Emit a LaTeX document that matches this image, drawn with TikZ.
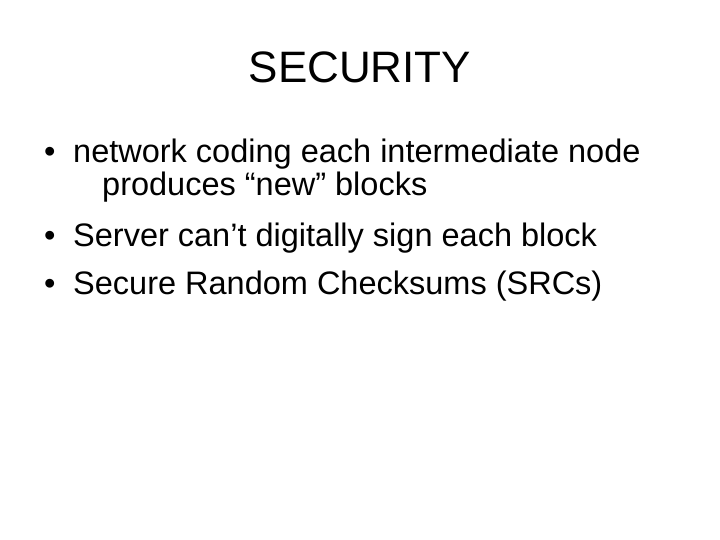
\documentclass[tikz,border=0pt]{standalone}
\usepackage{fontspec}
\setmainfont{Liberation Sans}
\usetikzlibrary{positioning}

\begin{document}
\begin{tikzpicture}[x=1pt,y=-1pt]
		\useasboundingbox (0,0) rectangle (720,540);
		\tikzset{item/.style={anchor=base west, inner sep=0pt, font=\fontsize{32.5}{32.5}\selectfont}}
		\node[anchor=base, inner sep=0pt, font=\fontsize{44}{44}\selectfont] (title) at (360,83) {SECURITY};
		
		% bullets
		\node[item] (b1) at (44,163) {•};
		\node[item] (t1) at (73,163) {network coding each intermediate node};
		\node[item] (t1b) at (102,196) {produces “new” blocks};
		\node[item] (b2) at (44,246) {•};
		\node[item] (t2) at (73,246) {Server can’t digitally sign each block};
		\node[item] (b3) at (44,294) {•};
		\node[item] (t3) at (73,294) {Secure Random Checksums (SRCs)};
	\end{tikzpicture}
\end{document}
